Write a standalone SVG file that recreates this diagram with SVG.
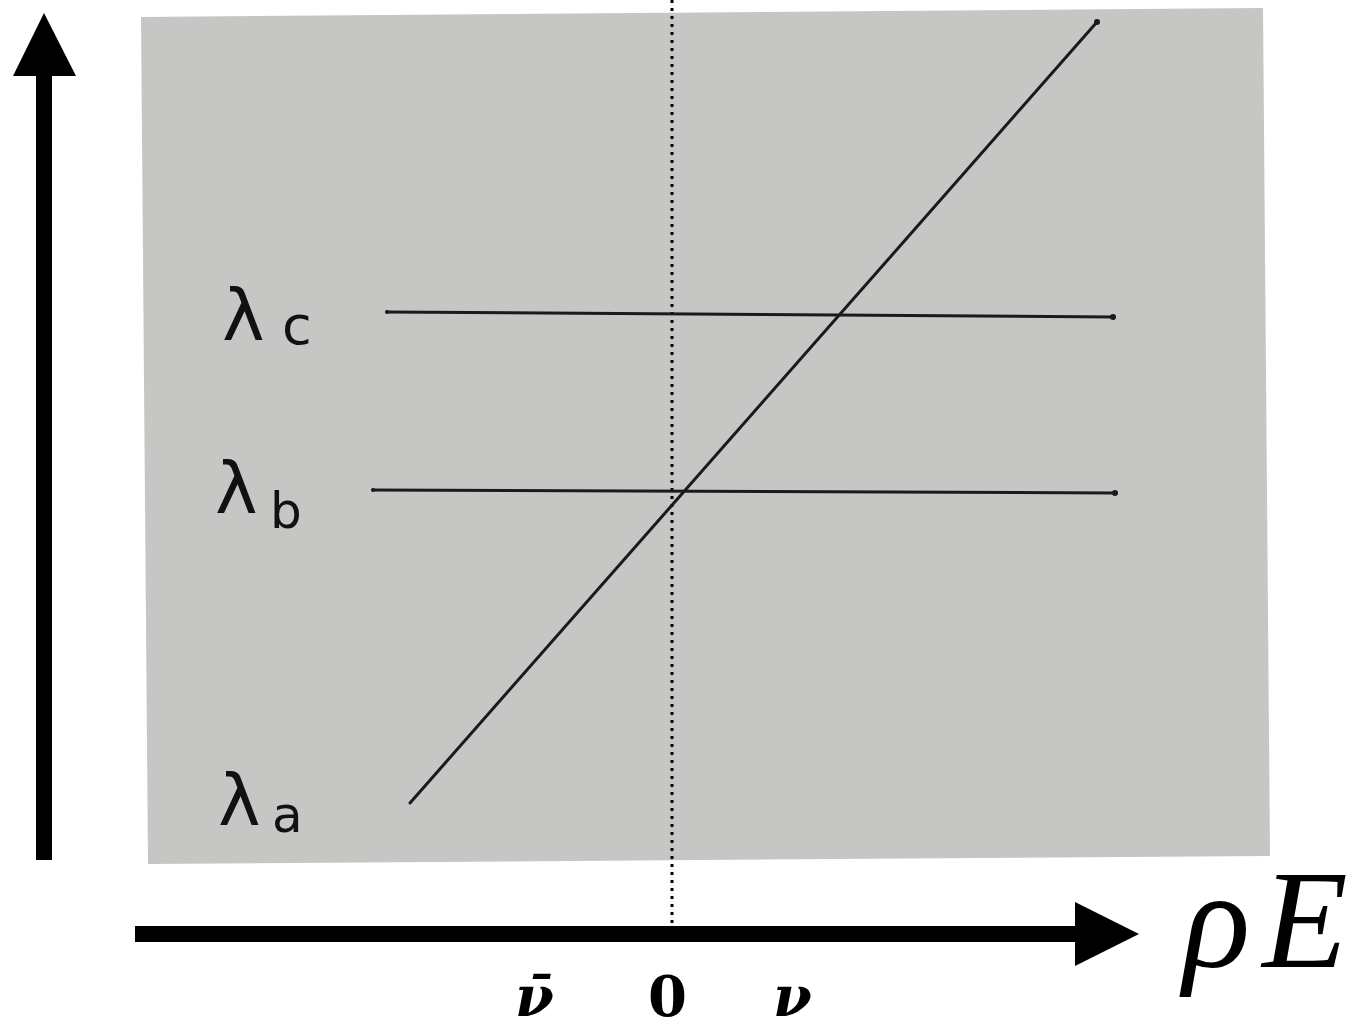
<svg xmlns="http://www.w3.org/2000/svg" width="1367" height="1029" viewBox="0 0 1367 1029">
<style>
.ink{stroke:#1a1a1a;stroke-width:3;stroke-linecap:round;fill:none}
.lam{font-family:"DejaVu Sans",sans-serif;fill:#111}
.math{font-family:"DejaVu Serif",serif;font-style:italic;font-weight:bold;fill:#000}
</style>
<rect width="1367" height="1029" fill="#fff"/>
<g id="paper"><polygon points="141,17 1263,8 1270,856 148,864" fill="#c6c6c4"/></g>
<g id="connectors">
<line x1="672" y1="0" x2="672" y2="925" stroke="#000" stroke-width="3" stroke-dasharray="3,5"/>
<line class="ink" x1="410" y1="803" x2="1097" y2="22"/>
<line class="ink" x1="387" y1="312" x2="1113" y2="317"/>
<line class="ink" x1="373" y1="490" x2="1115" y2="493"/>
<circle cx="1097" cy="22" r="3" fill="#1a1a1a"/>
<circle cx="1113" cy="317" r="3" fill="#1a1a1a"/>
<circle cx="1115" cy="493" r="3" fill="#1a1a1a"/>
<circle cx="387" cy="312" r="2" fill="#1a1a1a"/>
<circle cx="373" cy="490" r="2" fill="#1a1a1a"/>
<rect x="36" y="74" width="16" height="786" fill="#000"/>
<polygon points="44,13 76,76 13,76" fill="#000"/>
<rect x="135" y="926" width="942" height="16" fill="#000"/>
<polygon points="1075,902 1139,934 1075,966" fill="#000"/>
</g>
<g id="label-c"><text class="lam" x="222" y="340" font-size="72">λ</text><text class="lam" x="282" y="344" font-size="54">c</text></g>
<g id="label-b"><text class="lam" x="215" y="513" font-size="72">λ</text><text class="lam" x="270" y="528" font-size="50">b</text></g>
<g id="label-a"><text class="lam" x="218" y="825" font-size="72">λ</text><text class="lam" x="272" y="832" font-size="50">a</text></g>
<g id="xlabels">
<text class="math" x="515" y="1016" font-size="56">ν̄</text>
<text x="648" y="1016" font-size="56" font-weight="bold" font-family="DejaVu Serif,serif">0</text>
<text class="math" x="773" y="1016" font-size="56">ν</text>
<text x="1183" y="967" font-size="140" font-family="Liberation Serif,serif" font-style="italic" letter-spacing="12">ρE</text>
</g>
</svg>
